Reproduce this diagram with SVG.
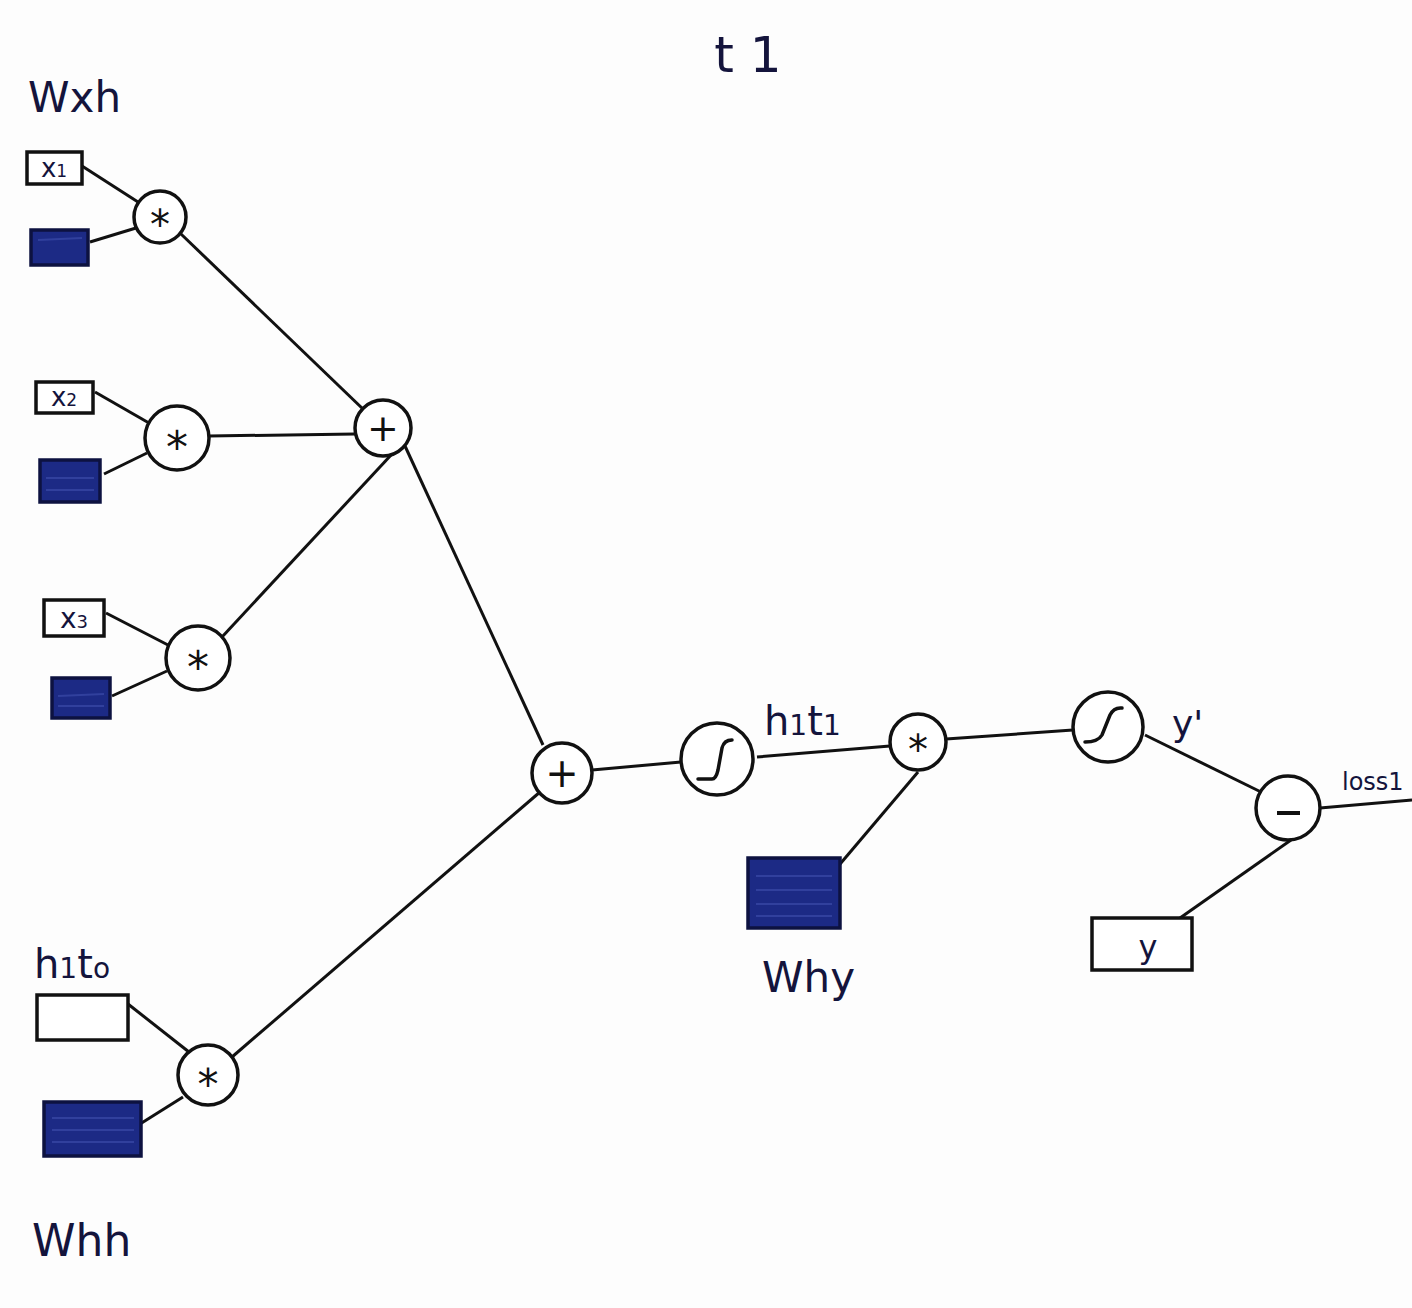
<svg xmlns="http://www.w3.org/2000/svg" width="1412" height="1308" viewBox="0 0 1412 1308">
<defs>
<style>
.bg{fill:#fdfdfd}
.op{fill:#fff;stroke:#111;stroke-width:3.5}
.box{fill:#fff;stroke:#111;stroke-width:3.5}
.wbox{fill:#1c2a85;stroke:#0d1240;stroke-width:3.5}
.wline{stroke:#3a4aa8;stroke-width:2;opacity:0.7}
.edge{stroke:#111;stroke-width:3;fill:none}
.sym{font-family:"DejaVu Sans",sans-serif;fill:#111;text-anchor:middle;dominant-baseline:central}
.lbl{font-family:"DejaVu Sans",sans-serif;fill:#14143c}
.sig{fill:none;stroke:#111;stroke-width:3.5;stroke-linecap:round}
</style>
</defs>
<rect class="bg" x="0" y="0" width="1412" height="1308"/>

<g id="connectors">
<line class="edge" x1="82" y1="166" x2="138" y2="202"/>
<line class="edge" x1="90" y1="242" x2="136" y2="228"/>
<line class="edge" x1="181" y1="234" x2="364" y2="410"/>
<line class="edge" x1="95" y1="392" x2="149" y2="423"/>
<line class="edge" x1="104" y1="474" x2="147" y2="453"/>
<line class="edge" x1="209" y1="436" x2="355" y2="434"/>
<line class="edge" x1="106" y1="613" x2="168" y2="645"/>
<line class="edge" x1="112" y1="696" x2="167" y2="671"/>
<line class="edge" x1="222" y1="637" x2="392" y2="454"/>
<line class="edge" x1="405" y1="446" x2="543" y2="745"/>
<line class="edge" x1="128" y1="1004" x2="189" y2="1052"/>
<line class="edge" x1="140" y1="1124" x2="183" y2="1097"/>
<line class="edge" x1="232" y1="1057" x2="540" y2="792"/>
<line class="edge" x1="592" y1="770" x2="681" y2="762"/>
<line class="edge" x1="757" y1="757" x2="890" y2="746"/>
<line class="edge" x1="946" y1="739" x2="1073" y2="730"/>
<line class="edge" x1="835" y1="870" x2="918" y2="772"/>
<line class="edge" x1="1145" y1="735" x2="1261" y2="792"/>
<line class="edge" x1="1180" y1="918" x2="1291" y2="840"/>
<line class="edge" x1="1320" y1="808" x2="1412" y2="800"/>
</g>

<g id="title"><text class="lbl" x="748" y="72" font-size="50" text-anchor="middle">t 1</text></g>
<g id="label-wxh"><text class="lbl" x="28" y="112" font-size="42">Wxh</text></g>

<g id="x1"><rect class="box" x="27" y="152" width="55" height="32"/><text class="lbl" x="54" y="177" font-size="26" text-anchor="middle">x<tspan font-size="17">1</tspan></text></g>
<g id="w1"><rect class="wbox" x="31" y="230" width="57" height="35"/><line class="wline" x1="38" y1="240" x2="82" y2="238"/></g>
<g id="mul1"><circle class="op" cx="160" cy="217" r="26"/><text class="sym" x="160" y="225" font-size="40">*</text></g>

<g id="x2"><rect class="box" x="36" y="382" width="57" height="31"/><text class="lbl" x="64" y="406" font-size="26" text-anchor="middle">x<tspan font-size="17">2</tspan></text></g>
<g id="w2"><rect class="wbox" x="40" y="460" width="60" height="42"/><line class="wline" x1="46" y1="478" x2="94" y2="478"/><line class="wline" x1="46" y1="490" x2="94" y2="490"/></g>
<g id="mul2"><circle class="op" cx="177" cy="438" r="32"/><text class="sym" x="177" y="447" font-size="44">*</text></g>

<g id="x3"><rect class="box" x="44" y="600" width="60" height="36"/><text class="lbl" x="74" y="628" font-size="28" text-anchor="middle">x<tspan font-size="18">3</tspan></text></g>
<g id="w3"><rect class="wbox" x="52" y="678" width="58" height="40"/><line class="wline" x1="58" y1="696" x2="104" y2="694"/><line class="wline" x1="58" y1="706" x2="104" y2="706"/></g>
<g id="mul3"><circle class="op" cx="198" cy="658" r="32"/><text class="sym" x="198" y="667" font-size="44">*</text></g>

<g id="plus1"><circle class="op" cx="383" cy="428" r="28"/><text class="sym" x="383" y="428" font-size="38">+</text></g>
<g id="plus2"><circle class="op" cx="562" cy="773" r="30"/><text class="sym" x="562" y="773" font-size="40">+</text></g>

<g id="label-h1t0"><text class="lbl" x="34" y="978" font-size="40">h<tspan font-size="28">1</tspan>t<tspan font-size="28">o</tspan></text></g>
<g id="h1t0"><rect class="box" x="37" y="995" width="91" height="45"/></g>
<g id="whh"><rect class="wbox" x="44" y="1102" width="97" height="54"/><line class="wline" x1="52" y1="1118" x2="134" y2="1118"/><line class="wline" x1="52" y1="1130" x2="134" y2="1130"/><line class="wline" x1="52" y1="1142" x2="134" y2="1142"/></g>
<g id="mul4"><circle class="op" cx="208" cy="1075" r="30"/><text class="sym" x="208" y="1084" font-size="42">*</text></g>
<g id="label-whh"><text class="lbl" x="32" y="1256" font-size="44">Whh</text></g>

<g id="sig1"><circle class="op" cx="717" cy="759" r="36"/><path class="sig" d="M698 779 L712 779 Q716 779 718 770 L722 748 Q724 740 732 740"/></g>
<g id="label-h1t1"><text class="lbl" x="764" y="735" font-size="40">h<tspan font-size="28">1</tspan>t<tspan font-size="28">1</tspan></text></g>
<g id="mul5"><circle class="op" cx="918" cy="742" r="28"/><text class="sym" x="918" y="750" font-size="40">*</text></g>
<g id="why"><rect class="wbox" x="748" y="858" width="92" height="70"/><line class="wline" x1="756" y1="876" x2="832" y2="876"/><line class="wline" x1="756" y1="890" x2="832" y2="890"/><line class="wline" x1="756" y1="904" x2="832" y2="904"/><line class="wline" x1="756" y1="916" x2="832" y2="916"/></g>
<g id="label-why"><text class="lbl" x="762" y="992" font-size="42">Why</text></g>

<g id="sig2"><circle class="op" cx="1108" cy="727" r="35"/><path class="sig" d="M1085 742 Q1098 742 1102 735 L1110 715 Q1114 707 1122 708"/></g>
<g id="label-yp"><text class="lbl" x="1172" y="736" font-size="36">y'</text></g>
<g id="minus"><circle class="op" cx="1288" cy="808" r="32"/><line x1="1277" y1="813" x2="1300" y2="813" stroke="#111" stroke-width="4"/></g>
<g id="label-loss"><text class="lbl" x="1342" y="790" font-size="24">loss1</text></g>
<g id="y"><rect class="box" x="1092" y="918" width="100" height="52"/><text class="lbl" x="1148" y="958" font-size="32" text-anchor="middle">y</text></g>
</svg>
